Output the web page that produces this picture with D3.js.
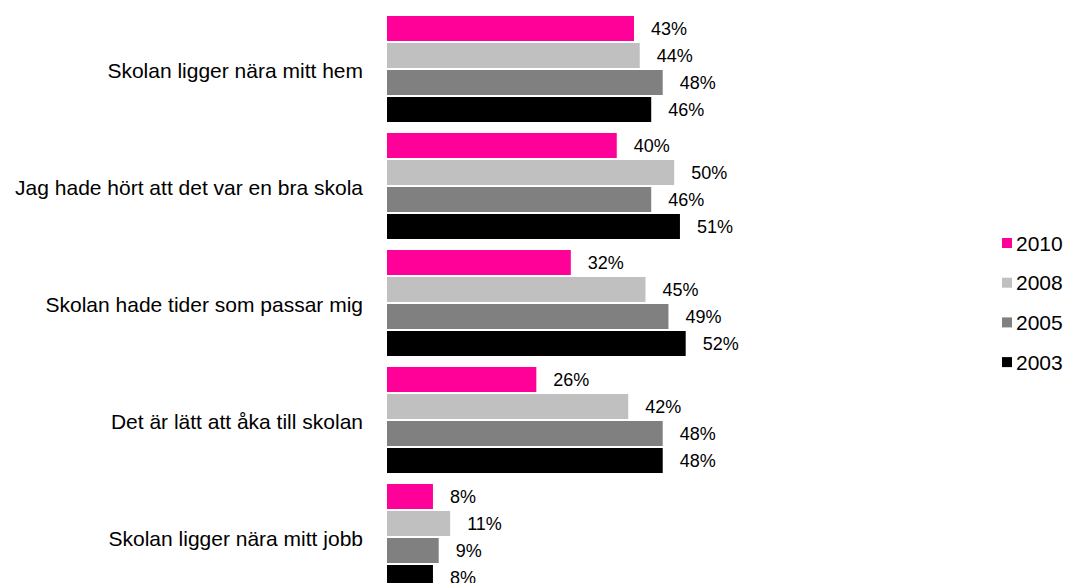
<!DOCTYPE html>
<html>
<head>
<meta charset="utf-8">
<script src="https://cdn.jsdelivr.net/npm/d3@7"></script>
<style>
  body { margin: 0; background: #fff; }
  text { font-family: "Liberation Sans", Arial, sans-serif; fill: #000; }
</style>
</head>
<body>
<div class="chart"></div>
<script>
// Data
var categories = [
  "Skolan ligger nära mitt hem",
  "Jag hade hört att det var en bra skola",
  "Skolan hade tider som passar mig",
  "Det är lätt att åka till skolan",
  "Skolan ligger nära mitt jobb"
];
var years = ["2010", "2008", "2005", "2003"];
var values2010 = [43, 40, 32, 26, 8];
var values2008 = [44, 50, 45, 42, 11];
var values2005 = [48, 46, 49, 48, 9];
var values2003 = [46, 51, 52, 48, 8];
var colors = ["#ff0099", "#c0c0c0", "#808080", "#000000"];

var seriesValues = [values2010, values2008, values2005, values2003];

var svgWidth = 1067;
var svgHeight = 583;

var svg = d3.select(".chart")
  .append("svg")
  .attr("width", svgWidth)
  .attr("height", svgHeight);

// Scales
var xScale = d3.scaleLinear().domain([0, 100]).range([387, 387 + 574.4]);
var yGroup = d3.scaleBand().domain(categories).range([16, 601]);
var ySeries = d3.scaleBand().domain(years).range([0, 108]);

var rows = [];
categories.forEach(function(cat, i) {
  years.forEach(function(yr, j) {
    rows.push({ cat: cat, year: yr, value: seriesValues[j][i], color: colors[j] });
  });
});

var chart = svg.append("g");

chart.selectAll("rect.bar")
  .data(rows)
  .enter()
  .append("rect")
  .attr("class", "bar")
  .attr("x", xScale(0))
  .attr("y", function(d) { return yGroup(d.cat) + ySeries(d.year); })
  .attr("width", function(d) { return xScale(d.value) - xScale(0); })
  .attr("height", ySeries.bandwidth() - 2)
  .attr("fill", function(d) { return d.color; });

chart.selectAll("text.val")
  .data(rows)
  .enter()
  .append("text")
  .attr("class", "val")
  .attr("x", function(d) { return xScale(d.value) + 17; })
  .attr("y", function(d) { return yGroup(d.cat) + ySeries(d.year) + (ySeries.bandwidth() - 2) / 2; })
  .attr("dy", "0.36em")
  .style("font-size", "18px")
  .text(function(d) { return d.value + "%"; });

// Category labels
chart.selectAll("text.cat")
  .data(categories)
  .enter()
  .append("text")
  .attr("class", "cat")
  .attr("x", 363)
  .attr("y", function(d) { return yGroup(d) + 108 / 2; })
  .attr("dy", "0.36em")
  .attr("text-anchor", "end")
  .style("font-size", "21px")
  .text(function(d) { return d; });

// Legend
var legend = svg.append("g").attr("transform", "translate(1002,243)");
var item = legend.selectAll("g")
  .data(years)
  .enter()
  .append("g")
  .attr("transform", function(d, i) { return "translate(0," + (i * 39.7) + ")"; });

item.append("rect")
  .attr("x", 0)
  .attr("y", -5)
  .attr("width", 10)
  .attr("height", 10)
  .attr("fill", function(d, i) { return colors[i]; });

item.append("text")
  .attr("x", 14)
  .attr("y", 0)
  .attr("dy", "0.36em")
  .style("font-size", "21px")
  .text(function(d) { return d; });
</script>
</body>
</html>
